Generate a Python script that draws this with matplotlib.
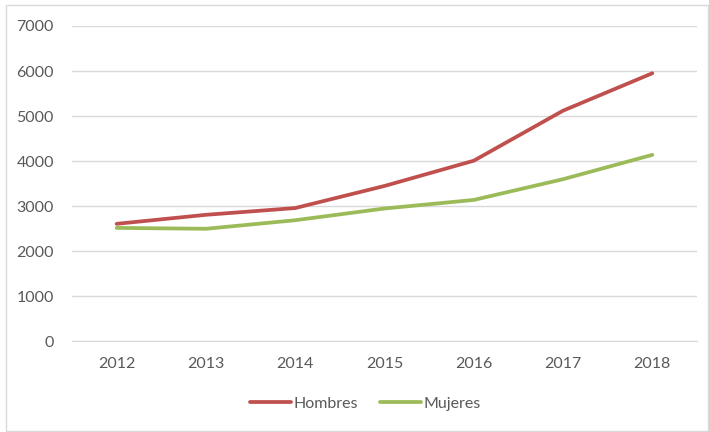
import matplotlib
matplotlib.use("Agg")
import matplotlib.pyplot as plt
from matplotlib.patches import Rectangle

years = ["2012", "2013", "2014", "2015", "2016", "2017", "2018"]
hombres = [2610, 2810, 2960, 3450, 4010, 5120, 5950]
mujeres = [2520, 2500, 2690, 2950, 3140, 3600, 4140]
yticks = [0, 1000, 2000, 3000, 4000, 5000, 6000, 7000]

plt.rcParams['font.family'] = ['Lato', 'DejaVu Sans']
txt = '#595959'

fig = plt.figure(figsize=(7.09, 4.32), dpi=100)
fig.patches.append(Rectangle((0.008, 0.003), 0.99, 0.985, transform=fig.transFigure,
                             fill=False, edgecolor='#d9d9d9', linewidth=1))
ax = fig.add_axes([0.1016, 0.2095, 0.8814, 0.7305])
x = list(range(len(years)))
ax.plot(x, hombres, color='#C0504D', linewidth=2.7, label='Hombres', solid_capstyle='round')
ax.plot(x, mujeres, color='#9BBB59', linewidth=2.7, label='Mujeres', solid_capstyle='round')
ax.set_xlim(-0.5, len(years) - 0.5)
ax.set_ylim(0, 7000)
ax.set_yticks(yticks)
ax.set_yticklabels([str(v) for v in yticks])
ax.set_xticks(x)
ax.set_xticklabels(years)
ax.grid(axis='y', color='#d9d9d9', linewidth=1)
ax.set_axisbelow(True)
for s in ['top', 'right', 'left']:
    ax.spines[s].set_visible(False)
ax.spines['bottom'].set_color('#d9d9d9')
ax.tick_params(axis='both', length=0, labelsize=11.5, labelcolor=txt)
ax.tick_params(axis='y', pad=13)
ax.tick_params(axis='x', pad=11)
leg = fig.legend(loc='center', bbox_to_anchor=(0.515, 0.065), ncol=2, frameon=False,
                 fontsize=11.5, handlelength=2.6, columnspacing=1.4, handletextpad=0.1)
for t in leg.get_texts():
    t.set_color(txt)
fig.savefig('out.png', dpi=100)
